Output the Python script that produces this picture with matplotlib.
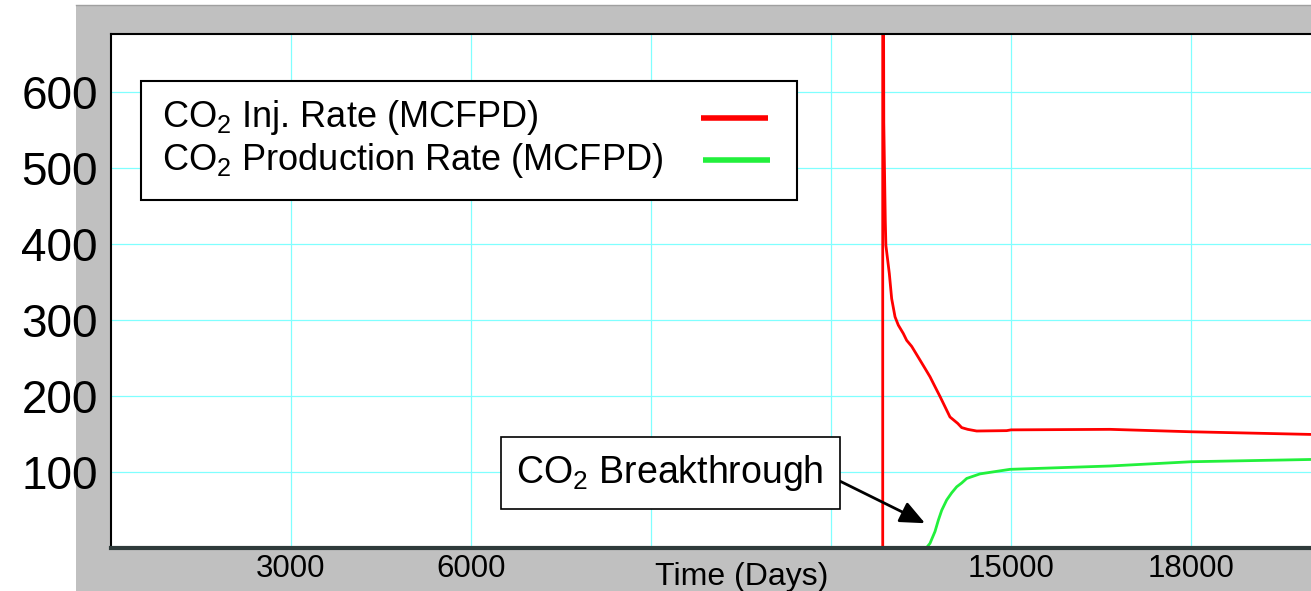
import matplotlib

matplotlib.use("Agg")
import matplotlib.pyplot as plt  # noqa: E402
from matplotlib.lines import Line2D  # noqa: E402
from matplotlib.patches import Rectangle  # noqa: E402

# values
inj_days = [0, 12862, 12862, 12880, 12895, 12905, 12915, 12972, 13011, 13067, 13122,
            13205, 13261, 13345, 13483, 13567, 13650, 13733, 13817, 13900, 13983,
            14111, 14178, 14278, 14428, 14928, 15000, 16650, 18000, 20000]
inj_rate = [0, 0, 1200, 560, 480, 430, 398, 361, 328, 304, 293,
            282, 273, 265, 247, 236, 225, 212, 199, 185.5, 172,
            163.6, 158, 155.7, 153.5, 154, 155, 155.7, 152.5, 149]
prod_days = [0, 13595, 13650, 13733, 13789, 13845, 13928, 14011, 14095, 14178,
             14262, 14372, 14483, 14983, 16650, 18000, 20000]
prod_rate = [0, 0, 5.5, 21, 36, 49, 62.6, 72, 80, 85,
             91, 94, 97, 103, 107.4, 113, 116]

x_ticks = [3000, 6000, 9000, 12000, 15000, 18000]
x_tick_labels = ["3000", "6000", "", "", "15000", "18000"]
y_ticks = [100, 200, 300, 400, 500, 600]
labels = ["CO$_2$ Inj. Rate (MCFPD)", "CO$_2$ Production Rate (MCFPD)"]
note = "CO$_2$ Breakthrough"
note_xy = (13567, 32)
note_text_xy = (9317, 98)

RED = "#ff0000"
GREEN = "#22f03c"
GRID = "#80ffff"

plt.rcParams["font.family"] = ["Liberation Sans", "DejaVu Sans"]
plt.rcParams["mathtext.fontset"] = "custom"
plt.rcParams["mathtext.rm"] = "Liberation Sans"
plt.rcParams["mathtext.it"] = "Liberation Sans:italic"
plt.rcParams["mathtext.bf"] = "Liberation Sans:bold"

W, H = 1311, 591
fig = plt.figure(figsize=(W / 100, H / 100), dpi=100)

# grey frame behind the plot
fig.add_artist(Rectangle((76 / W, 0), 1 - 76 / W, (H - 4.7) / H,
                         transform=fig.transFigure, facecolor="#c0c0c0",
                         edgecolor="none", zorder=0))
fig.add_artist(Line2D([76 / W, 1], [(H - 4.7) / H] * 2, transform=fig.transFigure,
                      color="#a0a0a0", lw=1.0, zorder=0.5))

ax = fig.add_axes([111 / W, (H - 547.5) / H, 1200 / W, 513 / H])
ax.set_facecolor("white")
ax.plot(inj_days, inj_rate, color=RED, lw=2.0, zorder=2)
ax.plot(prod_days, prod_rate, color=GREEN, lw=2.0, zorder=2)

ax.set_xlim(0, 20000)
ax.set_ylim(0, 676)
ax.set_xticks(x_ticks)
ax.set_xticklabels(x_tick_labels)
ax.set_yticks(y_ticks)
ax.tick_params(axis="y", length=0, pad=9.5, labelsize=33)
ax.tick_params(axis="x", length=0, pad=5, labelsize=22.5)
ax.grid(True, color=GRID, lw=0.9, zorder=0)
ax.set_axisbelow(True)

for side in ("left", "top"):
    ax.spines[side].set_color("black")
    ax.spines[side].set_linewidth(1.5)
ax.spines["bottom"].set_color("#2f3b3b")
ax.spines["bottom"].set_linewidth(3.0)
ax.spines["right"].set_visible(False)
for sp in ax.spines.values():
    sp.set_zorder(10)

ax.set_xlabel("Time (Days)", fontsize=23)
ax.xaxis.set_label_coords((742 - 111) / 1200, (547.5 - 584.5) / 513)
ax.xaxis.label.set_va("baseline")

# legend box drawn by hand: text left, line samples on the right
ax.add_patch(Rectangle((0.025, 0.6774), 0.5464, 0.2326, transform=ax.transAxes,
                       facecolor="white", edgecolor="black", lw=1.5, zorder=5))
for lab, col, base, ly, lx0 in ((labels[0], RED, 0.8203, 0.8367, 0.4917),
                                (labels[1], GREEN, 0.7359, 0.7554, 0.4933)):
    ax.text(0.0422, base, lab, transform=ax.transAxes, fontsize=26,
            ha="left", va="baseline", zorder=6)
    ax.add_line(Line2D([lx0, lx0 + 0.0557], [ly, ly], transform=ax.transAxes,
                       color=col, lw=4.0, solid_capstyle="butt", zorder=6))

ax.annotate(note, xy=note_xy, xytext=note_text_xy, fontsize=27,
            ha="center", va="center", zorder=7,
            bbox=dict(boxstyle="square,pad=0.42", facecolor="white",
                      edgecolor="black", lw=1.2),
            arrowprops=dict(arrowstyle="-|>,head_length=0.75,head_width=0.33",
                            mutation_scale=20, color="black", lw=2.0,
                            relpos=(1.0, 0.5), shrinkA=0, shrinkB=0))

fig.savefig("out.png", dpi=100)
